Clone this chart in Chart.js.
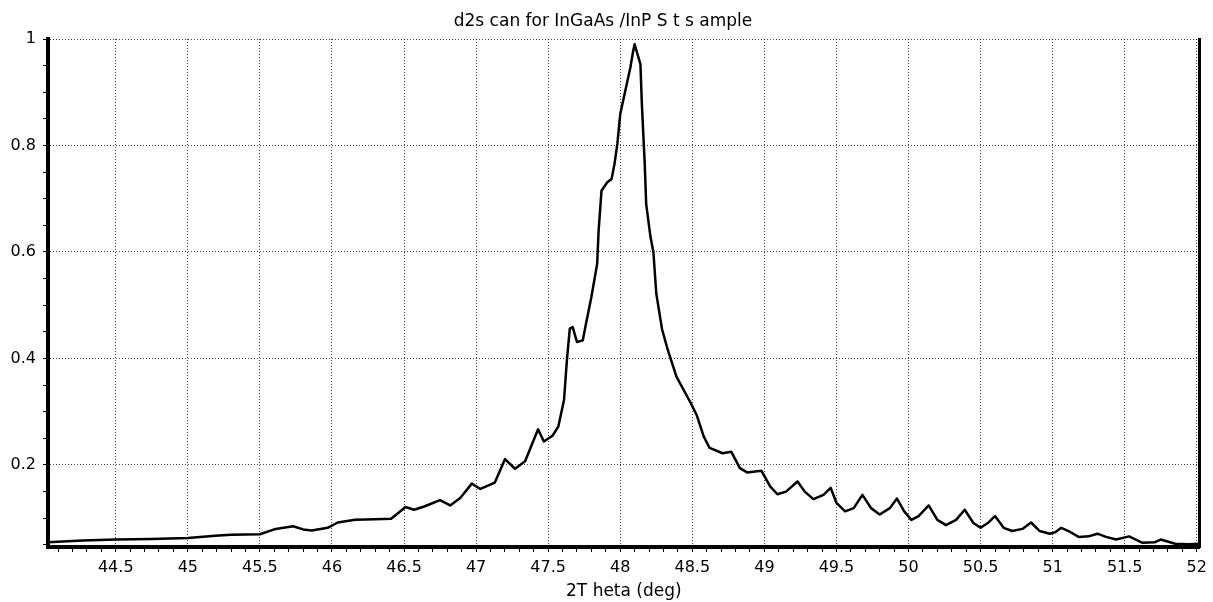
<!DOCTYPE html>
<html>
<head>
<meta charset="utf-8">
<title>d2scan InGaAs/InP</title>
<script src="https://cdn.jsdelivr.net/npm/chart.js@4.4.1/dist/chart.umd.min.js"></script>
<style>
    html, body { margin: 0; padding: 0; background: #fff; }
    #grafica { display: block; }
</style>
</head>
<body>
<canvas id="grafica" width="1213" height="602"></canvas>
<script>
// valores (2theta en grados, intensidad normalizada)
var theta = [
    44.03, 44.27, 44.50, 44.75, 45.00, 45.19, 45.30, 45.50, 45.61, 45.73,
    45.80, 45.86, 45.97, 46.04, 46.16, 46.30, 46.41, 46.46, 46.51, 46.57,
    46.64, 46.75, 46.82, 46.89, 46.97, 47.03, 47.13, 47.20, 47.27, 47.34,
    47.43, 47.47, 47.53, 47.57, 47.61, 47.63, 47.65, 47.67, 47.70, 47.74,
    47.76, 47.80, 47.84, 47.85, 47.87, 47.91, 47.94, 47.96, 47.98, 48.00,
    48.04, 48.07, 48.09, 48.10, 48.12, 48.14, 48.15, 48.17, 48.18, 48.21,
    48.23, 48.25, 48.29, 48.33, 48.39, 48.49, 48.53, 48.58, 48.62, 48.71,
    48.77, 48.83, 48.88, 48.98, 49.04, 49.09, 49.15, 49.23, 49.28, 49.34,
    49.41, 49.46, 49.50, 49.56, 49.62, 49.68, 49.74, 49.80, 49.87, 49.92,
    49.97, 50.02, 50.07, 50.14, 50.20, 50.26, 50.33, 50.39, 50.45, 50.50,
    50.55, 50.60, 50.66, 50.72, 50.79, 50.85, 50.91, 50.98, 51.02, 51.06,
    51.11, 51.18, 51.25, 51.31, 51.37, 51.44, 51.53, 51.62, 51.71, 51.75,
    51.85, 51.94, 52.01
];
var intensidad = [
    0.055, 0.058, 0.060, 0.061, 0.063, 0.067, 0.069, 0.070, 0.080, 0.085,
    0.079, 0.077, 0.082, 0.092, 0.097, 0.098, 0.099, 0.110, 0.121, 0.116,
    0.122, 0.134, 0.124, 0.138, 0.165, 0.155, 0.167, 0.211, 0.193, 0.207,
    0.267, 0.244, 0.255, 0.272, 0.322, 0.397, 0.456, 0.459, 0.431, 0.434,
    0.462, 0.516, 0.578, 0.640, 0.715, 0.731, 0.737, 0.765, 0.803, 0.859,
    0.909, 0.946, 0.978, 0.990, 0.971, 0.953, 0.878, 0.765, 0.690, 0.628,
    0.600, 0.522, 0.455, 0.416, 0.366, 0.316, 0.294, 0.253, 0.232, 0.222,
    0.225, 0.194, 0.186, 0.189, 0.160, 0.145, 0.150, 0.169, 0.150, 0.136,
    0.144, 0.157, 0.129, 0.113, 0.119, 0.144, 0.119, 0.107, 0.119, 0.137,
    0.113, 0.097, 0.104, 0.124, 0.097, 0.087, 0.097, 0.116, 0.091, 0.082,
    0.091, 0.104, 0.082, 0.076, 0.080, 0.092, 0.076, 0.071, 0.074, 0.082,
    0.076, 0.065, 0.066, 0.071, 0.065, 0.060, 0.066, 0.054, 0.055, 0.060,
    0.052, 0.051, 0.052
];

var xTickValues = [44.5, 45, 45.5, 46, 46.5, 47, 47.5, 48, 48.5, 49, 49.5, 50, 50.5, 51, 51.5, 52];
var xTickLabels = ['44.5', '45', '45.5', '46', '46.5', '47', '47.5', '48', '48.5', '49', '49.5', '50', '50.5', '51', '51.5', '52'];
var yTickValues = [0.2, 0.4, 0.6, 0.8, 1];
var yTickLabels = ['0.2', '0.4', '0.6', '0.8', '1'];

var titulo = 'd2s can for InGaAs /InP S t s ample';
var tituloX = '2T heta (deg)';

function buscarIndice(lista, v) {
    for (var i = 0; i < lista.length; i++) {
        if (Math.abs(lista[i] - v) < 1e-6) return i;
    }
    return -1;
}

var puntos = theta.map(function (t, i) { return { x: t, y: intensidad[i] }; });

var colorGrid = 'rgba(0,0,0,0.75)';
var fuente = "'DejaVu Sans', sans-serif";

Chart.defaults.font.family = fuente;
Chart.defaults.color = '#000';

new Chart(document.getElementById('grafica').getContext('2d'), {
    type: 'line',
    data: {
        datasets: [{
            data: puntos,
            borderColor: '#000',
            borderWidth: 2.5,
            pointRadius: 0,
            tension: 0,
            borderJoinStyle: 'round',
            fill: false
        }]
    },
    options: {
        responsive: false,
        animation: false,
        layout: { padding: { left: 0, right: 7, top: 0, bottom: 0 } },
        plugins: {
            legend: { display: false },
            tooltip: { enabled: false },
            title: {
                display: true,
                text: titulo,
                color: '#000',
                font: { family: fuente, size: 17, weight: 'normal' },
                padding: { top: 11, bottom: 7.6 }
            }
        },
        scales: {
            x: {
                type: 'linear',
                min: 44.03,
                max: 52.02,
                afterBuildTicks: function (scale) {
                    var t = [];
                    for (var i = 441; i <= 520; i++) t.push({ value: i / 10 });
                    scale.ticks = t;
                },
                afterFit: function (scale) { scale.height = 55; },
                ticks: {
                    autoSkip: false,
                    maxRotation: 0,
                    padding: 6,
                    font: { size: 16 },
                    callback: function (v) {
                        var k = buscarIndice(xTickValues, v);
                        return k >= 0 ? xTickLabels[k] : '';
                    }
                },
                grid: {
                    color: function (ctx) {
                        return ctx.tick && buscarIndice(xTickValues, ctx.tick.value) >= 0 ? colorGrid : 'rgba(0,0,0,0)';
                    },
                    lineWidth: 1,
                    tickLength: 5,
                    tickColor: '#000',
                    tickWidth: 1
                },
                border: { display: true, color: '#000', width: 4, dash: [1, 2] },
                title: {
                    display: true,
                    text: tituloX,
                    font: { size: 17 },
                    padding: { top: 0, bottom: 0 }
                }
            },
            y: {
                min: 0.046,
                max: 1,
                afterBuildTicks: function (scale) {
                    var t = [];
                    for (var i = 1; i <= 20; i++) t.push({ value: Math.round(i * 5) / 100 });
                    scale.ticks = t;
                },
                afterFit: function (scale) { scale.width = 48; },
                ticks: {
                    autoSkip: false,
                    padding: 7,
                    font: { size: 16 },
                    callback: function (v) {
                        var k = buscarIndice(yTickValues, v);
                        return k >= 0 ? yTickLabels[k] : '';
                    }
                },
                grid: {
                    color: function (ctx) {
                        return ctx.tick && buscarIndice(yTickValues, ctx.tick.value) >= 0 ? colorGrid : 'rgba(0,0,0,0)';
                    },
                    lineWidth: 1,
                    tickLength: 5,
                    tickColor: '#000',
                    tickWidth: 1
                },
                border: { display: true, color: '#000', width: 4, dash: [1, 2] }
            },
            derecha: {
                position: 'right',
                display: true,
                min: 0,
                max: 1,
                afterFit: function (scale) { scale.width = 0; },
                ticks: { display: false },
                grid: { display: false, drawTicks: false },
                border: { display: true, color: '#000', width: 3 }
            }
        }
    }
});
</script>
</body>
</html>
